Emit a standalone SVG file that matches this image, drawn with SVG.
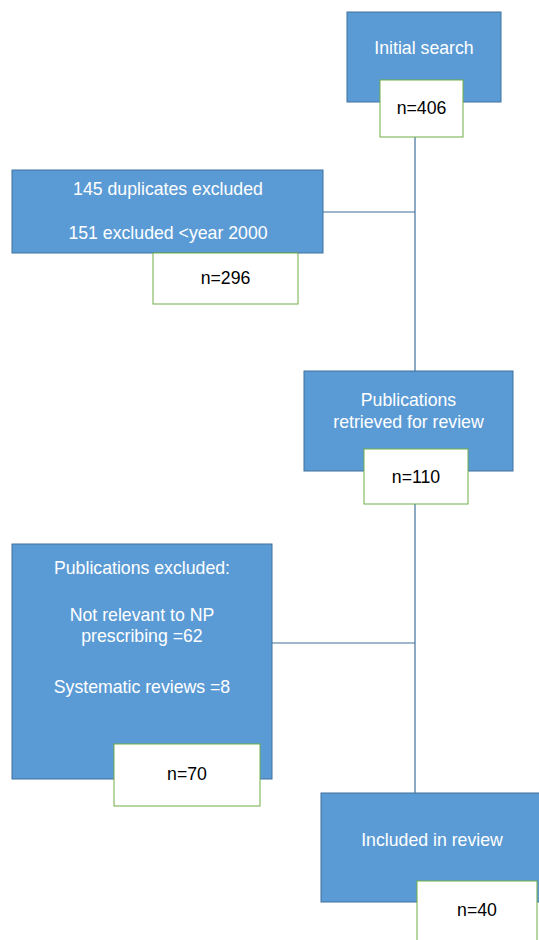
<svg xmlns="http://www.w3.org/2000/svg" width="539" height="940" viewBox="0 0 539 940">
<style>
.blue{fill:#5B9BD5;stroke:#41719C;stroke-width:1}
.white{fill:#FFFFFF;stroke:#70AD47;stroke-width:1}
.conn{stroke:#41719C;stroke-width:1.2;fill:none}
text{font-family:"Liberation Sans",Arial,sans-serif;font-size:17.7px;text-anchor:middle}
.wt{fill:#FFFFFF}
.bt{fill:#000000}
</style>
<rect width="539" height="940" fill="#FFFFFF"/>
<g id="connectors">
<line class="conn" x1="415" y1="137" x2="415" y2="793"/>
<line class="conn" x1="323" y1="212" x2="415" y2="212"/>
<line class="conn" x1="272" y1="643" x2="415" y2="643"/>
</g>
<g id="initial-search">
<rect class="blue" x="347" y="12" width="154" height="90"/>
<text class="wt" x="424" y="54">Initial search</text>
<rect class="white" x="380" y="80" width="83" height="57"/>
<text class="bt" x="421.5" y="114">n=406</text>
</g>
<g id="duplicates-excluded">
<rect class="blue" x="12" y="170" width="311" height="83"/>
<text class="wt" x="168" y="195">145 duplicates excluded</text>
<text class="wt" x="168" y="239">151 excluded &lt;year 2000</text>
<rect class="white" x="153" y="253" width="145" height="51"/>
<text class="bt" x="225.5" y="284">n=296</text>
</g>
<g id="retrieved-for-review">
<rect class="blue" x="304" y="371" width="209" height="100"/>
<text class="wt" x="408.5" y="406">Publications</text>
<text class="wt" x="408.5" y="428">retrieved for review</text>
<rect class="white" x="364" y="449" width="104" height="55"/>
<text class="bt" x="416" y="483">n=110</text>
</g>
<g id="publications-excluded">
<rect class="blue" x="12" y="544" width="260" height="235"/>
<text class="wt" x="142" y="574">Publications excluded:</text>
<text class="wt" x="142" y="621">Not relevant to NP</text>
<text class="wt" x="142" y="642">prescribing =62</text>
<text class="wt" x="142" y="693">Systematic reviews =8</text>
<rect class="white" x="114" y="744" width="146" height="62"/>
<text class="bt" x="187" y="780">n=70</text>
</g>
<g id="included-in-review">
<rect class="blue" x="321" y="793" width="222" height="109"/>
<text class="wt" x="432" y="846">Included in review</text>
<rect class="white" x="417" y="881" width="120" height="64"/>
<text class="bt" x="477" y="916">n=40</text>
</g>
</svg>
